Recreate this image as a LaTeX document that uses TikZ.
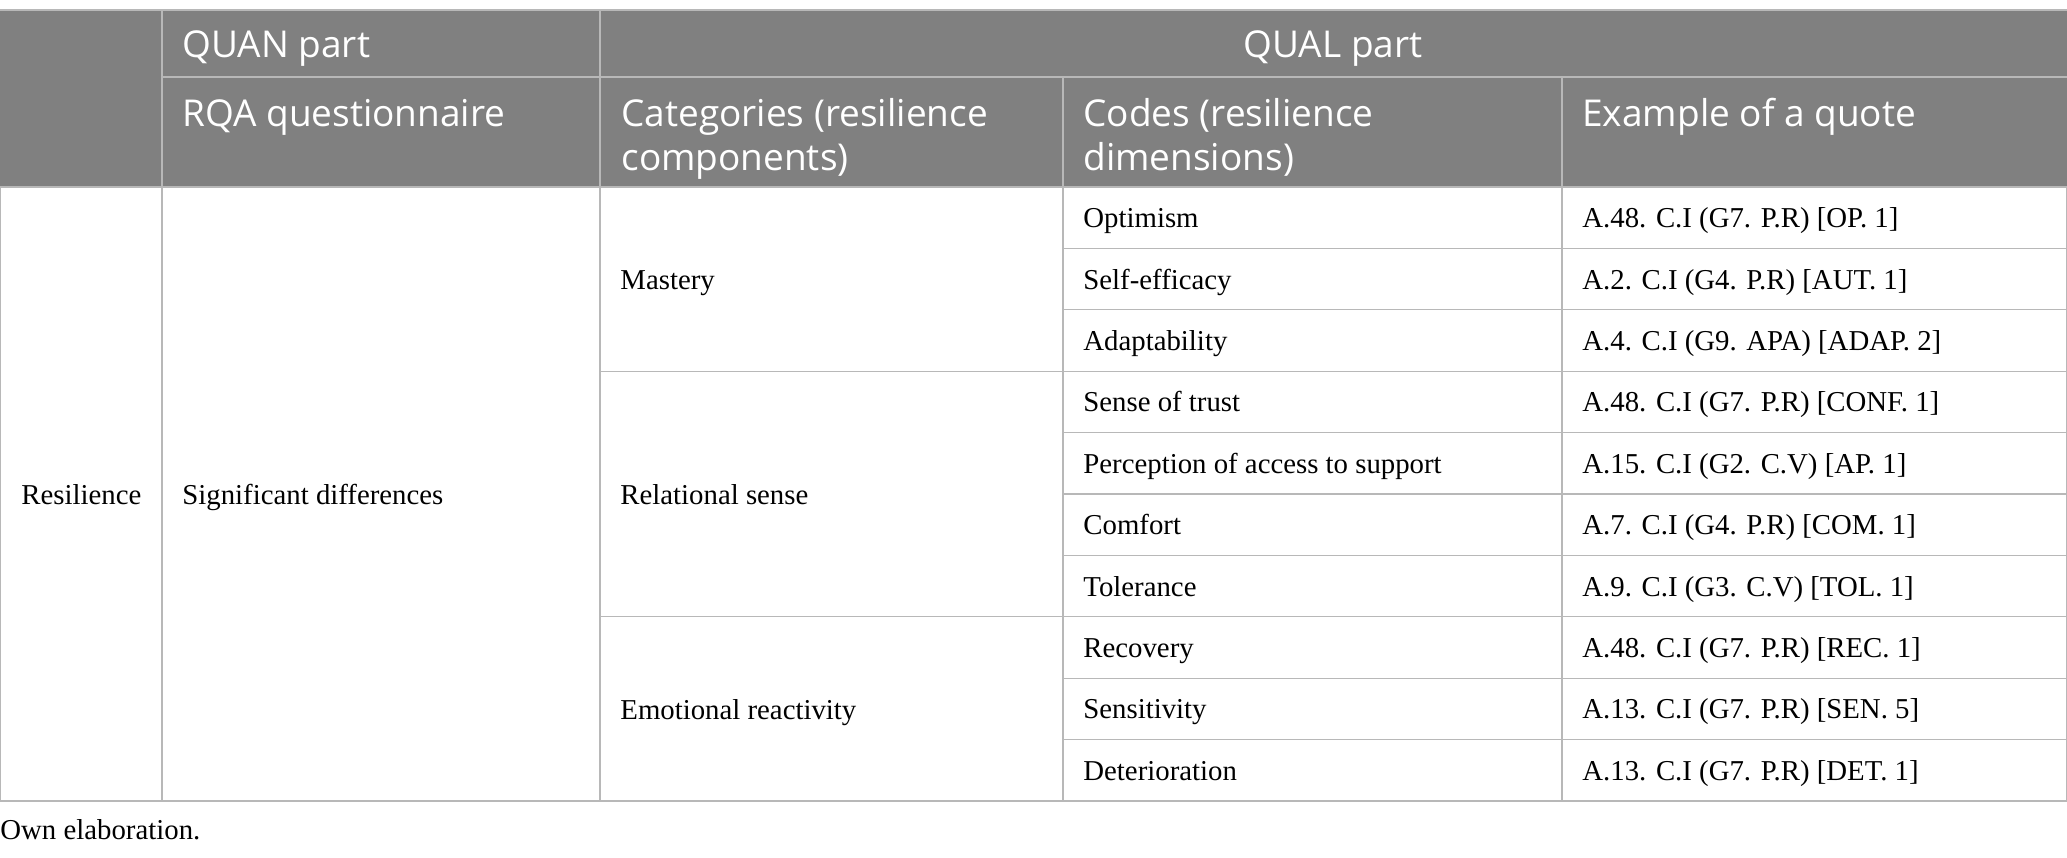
\documentclass[tikz,border=0pt]{standalone}
\usepackage{fontspec}
\setmainfont{Liberation Serif}
\newfontfamily\headfont{Open Sans}
\usepackage{tikz}
\definecolor{headgray}{HTML}{808080}
\definecolor{rulegray}{HTML}{B8B8B8}
\newcommand{\headsize}{\fontsize{18.5}{22}\selectfont}
\newcommand{\bodysize}{\fontsize{14.4}{17}\selectfont}

\begin{document}
\begin{tikzpicture}[x=.5pt,y=-.5pt]
        \useasboundingbox (0,0) rectangle (2067,857);
        \tikzset{headtext/.style={anchor=base west, inner sep=0pt, text=white, font=\headfont\headsize, align=left},
                 celltext/.style={anchor=base west, inner sep=0pt, font=\bodysize},
                 tablerule/.style={draw=rulegray, line width=.65pt}}
        % header band
        \fill[headgray] (0,10) rectangle (2067,187);
        \draw[tablerule] (0,10) -- (2067,10);
        \draw[tablerule] (162,77) -- (2067,77);
        \draw[tablerule] (162,10) -- (162,801);
        \draw[tablerule] (600,10) -- (600,801);
        \draw[tablerule] (1063,77) -- (1063,801);
        \draw[tablerule] (1562,77) -- (1562,801);
        % body frame and rules
        \draw[tablerule] (.5,187) rectangle (2066.5,801);
        \draw[tablerule] (600,371.2) -- (2067,371.2);
        \draw[tablerule] (600,616.8) -- (2067,616.8);
        \draw[tablerule] (1063,248.4) -- (2067,248.4);
        \draw[tablerule] (1063,309.8) -- (2067,309.8);
        \draw[tablerule] (1063,432.6) -- (2067,432.6);
        \draw[tablerule] (1063,494) -- (2067,494);
        \draw[tablerule] (1063,555.4) -- (2067,555.4);
        \draw[tablerule] (1063,678.2) -- (2067,678.2);
        \draw[tablerule] (1063,739.6) -- (2067,739.6);

        % header texts (two-line cells sit on the baseline of their last line)
        \node (quan) at (182,57) [headtext] {QUAN part};
        \node (qual) at (1333,57) [headtext, anchor=base] {QUAL part};
        \node (rqa) at (182,126) [headtext] {RQA questionnaire};
        \node (categories) at (621,170) [headtext] {Categories (resilience\\components)};
        \node (codes) at (1083,170) [headtext] {Codes (resilience\\dimensions)};
        \node (quote) at (1582,126) [headtext] {Example of a quote};

        % body texts
        \node (resilience) at (21,504) [celltext] {Resilience};
        \node (signif) at (182,504) [celltext] {Significant differences};
        \node (mastery) at (620,289) [celltext] {Mastery};
        \node (relational) at (620,504) [celltext] {Relational sense};
        \node (emotional) at (620,719) [celltext] {Emotional reactivity};

        \node (optimism) at (1083,227.7) [celltext] {Optimism};
        \node (selfeff) at (1083,289.1) [celltext] {Self-efficacy};
        \node (adapt) at (1083,350.5) [celltext] {Adaptability};
        \node (trust) at (1083,411.9) [celltext] {Sense of trust};
        \node (access) at (1083,473.3) [celltext] {Perception of access to support};
        \node (comfort) at (1083,534.7) [celltext] {Comfort};
        \node (tolerance) at (1083,596.1) [celltext] {Tolerance};
        \node (recovery) at (1083,657.5) [celltext] {Recovery};
        \node (sensitivity) at (1083,718.9) [celltext] {Sensitivity};
        \node (deterior) at (1083,780.3) [celltext] {Deterioration};

        \node (q1) at (1582,227.7) [celltext] {A.48. C.I (G7. P.R) [OP. 1]};
        \node (q2) at (1582,289.1) [celltext] {A.2. C.I (G4. P.R) [AUT. 1]};
        \node (q3) at (1582,350.5) [celltext] {A.4. C.I (G9. APA) [ADAP. 2]};
        \node (q4) at (1582,411.9) [celltext] {A.48. C.I (G7. P.R) [CONF. 1]};
        \node (q5) at (1582,473.3) [celltext] {A.15. C.I (G2. C.V) [AP. 1]};
        \node (q6) at (1582,534.7) [celltext] {A.7. C.I (G4. P.R) [COM. 1]};
        \node (q7) at (1582,596.1) [celltext] {A.9. C.I (G3. C.V) [TOL. 1]};
        \node (q8) at (1582,657.5) [celltext] {A.48. C.I (G7. P.R) [REC. 1]};
        \node (q9) at (1582,718.9) [celltext] {A.13. C.I (G7. P.R) [SEN. 5]};
        \node (q10) at (1582,780.3) [celltext] {A.13. C.I (G7. P.R) [DET. 1]};

        \node (note) at (0,839) [celltext] {Own elaboration.};
          \end{tikzpicture}
\end{document}
